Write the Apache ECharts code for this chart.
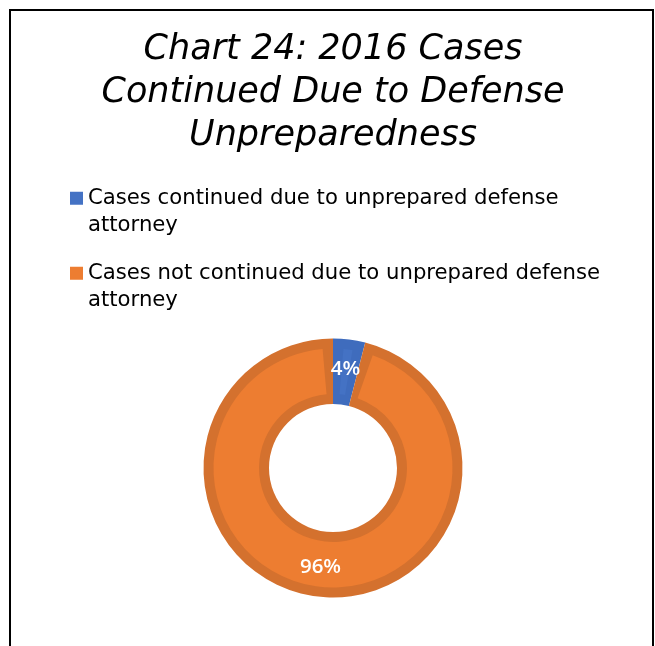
<!DOCTYPE html>
<html><head><meta charset="utf-8">
<script src="https://cdn.jsdelivr.net/npm/echarts@6/dist/echarts.min.js"></script>
<style>
html,body{margin:0;padding:0;background:#fff;overflow:hidden;width:655px;height:646px}
#frame{position:absolute;left:9px;top:9px;width:641px;height:700px;border:2px solid #000}
#chart{position:absolute;left:0;top:0;width:655px;height:646px}
</style></head><body>
<div id="frame"></div><div id="chart"></div>
<script>
const titleLines = ['Chart 24: 2016 Cases', 'Continued Due to Defense', 'Unpreparedness'];
const categories = ['Cases continued due to unprepared defense attorney', 'Cases not continued due to unprepared defense attorney'];
const legendLines = [['Cases continued due to unprepared defense', 'attorney'], ['Cases not continued due to unprepared defense', 'attorney']];
const values = [4, 96];
const fillColors = ['#4472C4', '#ED7D31'];
const edgeColors = ['#3F6CBD', '#D4712E'];

const chart = echarts.init(document.getElementById('chart'), null, {renderer: 'canvas'});
const option = {
  animation: false,
  title: {
    text: titleLines.join('\n'),
    left: 333,
    textAlign: 'center',
    top: 28.5,
    padding: 0,
    textStyle: {fontFamily: 'DejaVu Sans', fontSize: 35, fontStyle: 'italic', fontWeight: 'normal', lineHeight: 43, color: '#000'}
  },
  legend: {
    orient: 'vertical',
    left: 70,
    top: 157,
    padding: 0,
    itemWidth: 13,
    itemHeight: 13,
    itemGap: -7.5,
    selectedMode: false,
    data: categories.map((c, i) => ({name: c, icon: 'rect', itemStyle: {color: fillColors[i], borderWidth: 0}})),
    formatter: name => '\n' + legendLines[categories.indexOf(name)].join('\n'),
    textStyle: {fontFamily: 'DejaVu Sans', fontSize: 21.2, lineHeight: 27.5, color: '#000'}
  },
  series: [
    {
      type: 'pie',
      center: [333, 468],
      radius: [64, 129.5],
      startAngle: 90,
      clockwise: true,
      silent: true,
      itemStyle: {borderWidth: 0},
      label: {show: false},
      labelLine: {show: false},
      emphasis: {disabled: true},
      data: categories.map((c, i) => ({name: c, value: values[i], itemStyle: {color: edgeColors[i]}}))
    },
    {
      type: 'pie',
      center: [333, 468],
      radius: [74, 119.5],
      startAngle: 90,
      clockwise: true,
      padAngle: 10,
      silent: true,
      z: 3,
      itemStyle: {borderWidth: 0},
      label: {show: true, position: 'inside', formatter: '{c}%', color: '#fff', fontFamily: 'Open Sans', fontWeight: 600, fontSize: 20.5},
      labelLine: {show: false},
      emphasis: {disabled: true},
      data: categories.map((c, i) => ({name: c, value: values[i], itemStyle: {color: fillColors[i]}}))
    }
  ]
};
chart.setOption(option);
</script>
</body></html>
